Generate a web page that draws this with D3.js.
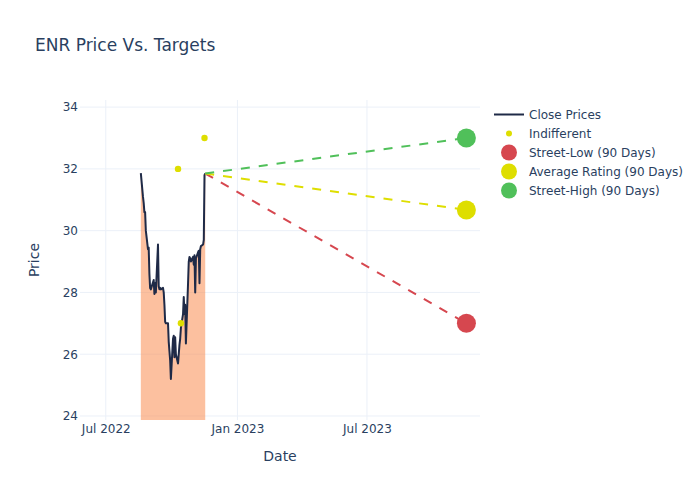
<!DOCTYPE html>
<html>
<head>
<meta charset="utf-8">
<script src="https://cdn.jsdelivr.net/npm/d3@7"></script>
<style>
  html, body { margin: 0; padding: 0; background: #fff; }
  svg { display: block; font-family: "DejaVu Sans", Verdana, sans-serif; }
</style>
</head>
<body>
<svg id="chart" width="700" height="500"></svg>
<script>
// ---- data ----
const closeDates = [
  "2022-08-19","2022-08-22","2022-08-23","2022-08-24","2022-08-25","2022-08-26",
  "2022-08-29","2022-08-30","2022-08-31","2022-09-01","2022-09-02","2022-09-06",
  "2022-09-07","2022-09-08","2022-09-09","2022-09-12","2022-09-13","2022-09-14",
  "2022-09-15","2022-09-16","2022-09-19","2022-09-20","2022-09-21","2022-09-22",
  "2022-09-23","2022-09-26","2022-09-27","2022-09-28","2022-09-29","2022-09-30",
  "2022-10-03","2022-10-04","2022-10-05","2022-10-06","2022-10-07","2022-10-10",
  "2022-10-11","2022-10-12","2022-10-13","2022-10-14","2022-10-17","2022-10-18",
  "2022-10-19","2022-10-20","2022-10-21","2022-10-24","2022-10-25","2022-10-26",
  "2022-10-27","2022-10-28","2022-10-31","2022-11-01","2022-11-02","2022-11-03",
  "2022-11-04","2022-11-07","2022-11-08","2022-11-09","2022-11-10","2022-11-11",
  "2022-11-14","2022-11-15","2022-11-16","2022-11-17"
];
const closePrices = [
  31.86, 31.10, 30.90, 30.60, 30.60, 30.00,
  29.40, 29.45, 28.60, 28.14, 28.10, 28.40,
  27.95, 28.30, 28.00, 29.55, 28.20, 28.10,
  28.15, 28.10, 28.15, 28.00, 27.60, 27.05,
  27.00, 27.00, 26.40, 26.10, 25.80, 25.20,
  26.50, 26.60, 25.90, 26.55, 26.00, 25.70,
  26.00, 26.30, 26.50, 26.85, 27.30, 27.85,
  27.30, 27.60, 26.35, 28.30, 29.00, 29.15,
  29.10, 29.00, 29.15, 28.90, 29.20, 28.00,
  29.10, 29.30, 29.35, 28.30, 29.40, 29.50,
  29.55, 29.70, 31.80, 31.85
];
const indifferentDates = ["2022-10-10", "2022-10-14", "2022-11-16"];
const indifferentValues = [32, 27, 33];
const targetDate = "2023-11-17";
const targetNames = ["Street-Low (90 Days)", "Average Rating (90 Days)", "Street-High (90 Days)"];
const targetValues = [27, 30.67, 33];
const targetColors = ["#d6474f", "#dede00", "#50c05a"];
const yTicks = [24, 26, 28, 30, 32, 34];
const xTicks = ["2022-07-01", "2023-01-01", "2023-07-01"];
const xTickLabels = ["Jul 2022", "Jan 2023", "Jul 2023"];

// ---- layout ----
const svg = d3.select("#chart");
const L = 80, R = 480, T = 100, B = 420;
const txt = "#2a3f5f", grid = "#ebf0f8";
const parse = d3.timeParse("%Y-%m-%d");

const x = d3.scaleTime()
  .domain([parse("2022-05-26"), parse("2023-12-06")])
  .range([L, R]);
const y = d3.scaleLinear().domain([23.87, 34.23]).range([B, T]);

svg.append("defs").append("clipPath").attr("id", "clip")
  .append("rect").attr("x", L).attr("y", T).attr("width", R - L).attr("height", B - T);

// axes + gridlines
const xAxis = d3.axisBottom(x).tickValues(xTicks.map(parse))
  .tickFormat((d, i) => xTickLabels[i]).tickSize(0).tickPadding(4.5);
const gx = svg.append("g").attr("transform", `translate(0,${B})`).call(xAxis);
gx.select(".domain").remove();
gx.selectAll("text").attr("fill", txt).style("font-size", "12px")
  .style("font-family", "DejaVu Sans, sans-serif").attr("dy", "0.71em");
svg.append("g").selectAll("line").data(xTicks.map(parse)).join("line")
  .attr("x1", d => x(d)).attr("x2", d => x(d)).attr("y1", T).attr("y2", B)
  .attr("stroke", grid).attr("stroke-width", 1);

const yAxis = d3.axisLeft(y).tickValues(yTicks).tickSize(0).tickPadding(2);
const gy = svg.append("g").attr("transform", `translate(${L},0)`).call(yAxis);
gy.select(".domain").remove();
gy.selectAll("text").attr("fill", txt).style("font-size", "12px")
  .style("font-family", "DejaVu Sans, sans-serif");
svg.append("g").selectAll("line").data(yTicks).join("line")
  .attr("x1", L).attr("x2", R).attr("y1", d => y(d)).attr("y2", d => y(d))
  .attr("stroke", grid).attr("stroke-width", 1);

// plot
const plot = svg.append("g").attr("clip-path", "url(#clip)");
const closeData = closeDates.map((d, i) => ({ date: parse(d), value: closePrices[i] }));

plot.append("path").datum(closeData)
  .attr("d", d3.area().x(d => x(d.date)).y0(y(0)).y1(d => y(d.value)))
  .attr("fill", "rgba(250,140,80,0.55)");
plot.append("path").datum(closeData)
  .attr("d", d3.line().x(d => x(d.date)).y(d => y(d.value)))
  .attr("fill", "none").attr("stroke", "#1f2a47").attr("stroke-width", 2)
  .attr("stroke-linejoin", "round");

plot.append("g").selectAll("circle").data(indifferentDates).join("circle")
  .attr("cx", d => x(parse(d))).attr("cy", (d, i) => y(indifferentValues[i]))
  .attr("r", 3.2).attr("fill", "#dede00");

const last = closeData[closeData.length - 1];
targetValues.forEach((v, i) => {
  plot.append("line")
    .attr("x1", x(last.date)).attr("y1", y(last.value))
    .attr("x2", x(parse(targetDate))).attr("y2", y(v))
    .attr("stroke", targetColors[i]).attr("stroke-width", 2)
    .attr("stroke-dasharray", "9,9");
});
targetValues.forEach((v, i) => {
  plot.append("circle")
    .attr("cx", x(parse(targetDate))).attr("cy", y(v))
    .attr("r", 9.5).attr("fill", targetColors[i]);
});

// titles
svg.append("text").attr("x", 35).attr("y", 51).attr("fill", txt)
  .style("font-size", "17px").text("ENR Price Vs. Targets");
svg.append("text").attr("x", (L + R) / 2).attr("y", 461).attr("text-anchor", "middle")
  .attr("fill", txt).style("font-size", "14px").text("Date");
svg.append("text").attr("transform", `translate(39,${(T + B) / 2}) rotate(-90)`)
  .attr("text-anchor", "middle").attr("fill", txt).style("font-size", "14px").text("Price");

// legend
const legendItems = [
  { name: "Close Prices", type: "line", color: "#1f2a47" },
  { name: "Indifferent", type: "dot", color: "#dede00" },
  ...targetNames.map((n, i) => ({ name: n, type: "big", color: targetColors[i] }))
];
const lg = svg.append("g");
legendItems.forEach((it, i) => {
  const cy = 114.5 + i * 19;
  if (it.type === "line") {
    lg.append("line").attr("x1", 494).attr("x2", 524).attr("y1", cy).attr("y2", cy)
      .attr("stroke", it.color).attr("stroke-width", 2);
  } else {
    lg.append("circle").attr("cx", 509).attr("cy", cy)
      .attr("r", it.type === "dot" ? 3 : 8).attr("fill", it.color);
  }
  lg.append("text").attr("x", 529).attr("y", cy + 4.3).attr("fill", txt)
    .style("font-size", "12px").text(it.name);
});
</script>
</body>
</html>
